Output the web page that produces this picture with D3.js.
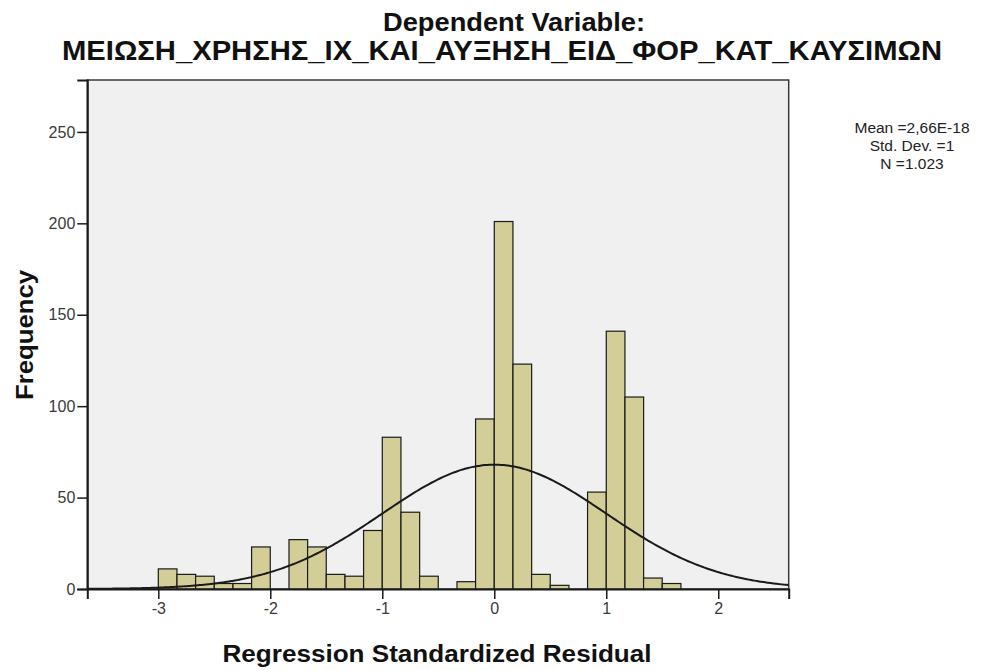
<!DOCTYPE html>
<html>
<head>
<meta charset="utf-8">
<script src="https://cdn.jsdelivr.net/npm/d3@7"></script>
<style>
  html, body { margin: 0; padding: 0; background: #ffffff; }
  svg { display: block; font-family: "Liberation Sans", Arial, sans-serif; }
</style>
</head>
<body>
<svg id="chart" width="986" height="670"></svg>
<script>
// ---- data ----
const titleLines = ["Dependent Variable:", "ΜΕΙΩΣΗ_ΧΡΗΣΗΣ_ΙΧ_ΚΑΙ_ΑΥΞΗΣΗ_ΕΙΔ_ΦΟΡ_ΚΑΤ_ΚΑΥΣΙΜΩΝ"];
const xLabel = "Regression Standardized Residual";
const yLabel = "Frequency";
const statLines = ["Mean =2,66E-18", "Std. Dev. =1", "N =1.023"];
const binWidth = 1 / 6;
const binStart = [-3.000, -2.833, -2.667, -2.500, -2.333, -2.167, -2.000, -1.833, -1.667, -1.500,
                  -1.333, -1.167, -1.000, -0.833, -0.667, -0.500, -0.333, -0.167, 0.000, 0.167,
                   0.333, 0.500, 0.667, 0.833, 1.000, 1.167, 1.333, 1.500];
const binCount = [11, 8, 7, 3, 3, 23, 0, 27, 23, 8,
                  7, 32, 83, 42, 7, 0, 4, 93, 201, 123,
                  8, 2, 0, 53, 141, 105, 6, 3];
const xTicks = [-3, -2, -1, 0, 1, 2];
const yTicks = [0, 50, 100, 150, 200, 250];
const normMean = 0, normSD = 1, normN = 1023;
const xDomain = [-3.634, 2.629];
const yDomain = [0, 278.4];

// ---- layout ----
const svg = d3.select("#chart");
const plot = { left: 87.3, right: 788.7, top: 80, bottom: 589 };
const x = d3.scaleLinear().domain(xDomain).range([plot.left, plot.right]);
const y = d3.scaleLinear().domain(yDomain).range([plot.bottom, plot.top]);

// plot background
svg.append("rect")
  .attr("x", plot.left).attr("y", plot.top)
  .attr("width", plot.right - plot.left).attr("height", plot.bottom - plot.top)
  .attr("fill", "#f0f0f0").attr("stroke", "#3a3a3a").attr("stroke-width", 1.5);

// bars
const bins = binStart.map((s, i) => ({ x0: s, x1: s + binWidth, n: binCount[i] })).filter(d => d.n > 0);
svg.append("g").selectAll("rect").data(bins).join("rect")
  .attr("x", d => x(d.x0))
  .attr("width", d => x(d.x1) - x(d.x0))
  .attr("y", d => y(d.n))
  .attr("height", d => y(0) - y(d.n))
  .attr("fill", "#d3ce97")
  .attr("stroke", "#1a1a1a").attr("stroke-width", 1.2);

// normal curve
const curveXs = d3.range(0, 301).map(i => xDomain[0] + (xDomain[1] - xDomain[0]) * i / 300);
const dens = v => normN * binWidth * Math.exp(-0.5 * ((v - normMean) / normSD) ** 2) / (normSD * Math.sqrt(2 * Math.PI));
svg.append("path")
  .datum(curveXs)
  .attr("d", d3.line().x(v => x(v)).y(v => y(dens(v))).curve(d3.curveBasis))
  .attr("fill", "none").attr("stroke", "#1a1a1a").attr("stroke-width", 2);

// axes
const yAxis = svg.append("g").attr("transform", `translate(${plot.left},0)`)
  .call(d3.axisLeft(y).tickValues(yTicks).tickSize(10).tickPadding(2).tickFormat(d3.format("d")));
const xAxis = svg.append("g").attr("transform", `translate(0,${plot.bottom})`)
  .call(d3.axisBottom(x).tickValues(xTicks).tickSize(10).tickPadding(4).tickFormat(d3.format("d")));
[yAxis, xAxis].forEach(g => {
  g.select(".domain").attr("stroke", "#1a1a1a").attr("stroke-width", 2);
  g.selectAll(".tick line").attr("stroke", "#1a1a1a").attr("stroke-width", 1.5);
  g.selectAll(".tick text").attr("fill", "#3a3a3a").style("font-size", "16px")
    .style("font-family", "'Liberation Sans', Arial, sans-serif");
});
xAxis.selectAll(".tick text").text(d => d < 0 ? "-" + Math.abs(d) : d);

// title
svg.append("text").attr("x", 514).attr("y", 31).attr("text-anchor", "middle")
  .style("font-size", "26px").style("font-weight", "bold").attr("fill", "#111")
  .attr("textLength", 262).attr("lengthAdjust", "spacingAndGlyphs")
  .text(titleLines[0]);
svg.append("text").attr("x", 502).attr("y", 60).attr("text-anchor", "middle")
  .style("font-size", "27px").style("font-weight", "bold").attr("fill", "#111")
  .attr("textLength", 880).attr("lengthAdjust", "spacingAndGlyphs")
  .text(titleLines[1]);

// axis titles
svg.append("text").attr("transform", "translate(33,335) rotate(-90)").attr("text-anchor", "middle")
  .style("font-size", "24px").style("font-weight", "bold").attr("fill", "#111")
  .attr("textLength", 130).attr("lengthAdjust", "spacingAndGlyphs").text(yLabel);
svg.append("text").attr("x", 437).attr("y", 662).attr("text-anchor", "middle")
  .style("font-size", "23px").style("font-weight", "bold").attr("fill", "#111")
  .attr("textLength", 429).attr("lengthAdjust", "spacingAndGlyphs").text(xLabel);

// stats
svg.append("g").selectAll("text").data(statLines).join("text")
  .attr("x", 912).attr("y", (d, i) => 133 + i * 18).attr("text-anchor", "middle")
  .style("font-size", "15.5px").attr("fill", "#222").text(d => d);
</script>
</body>
</html>
